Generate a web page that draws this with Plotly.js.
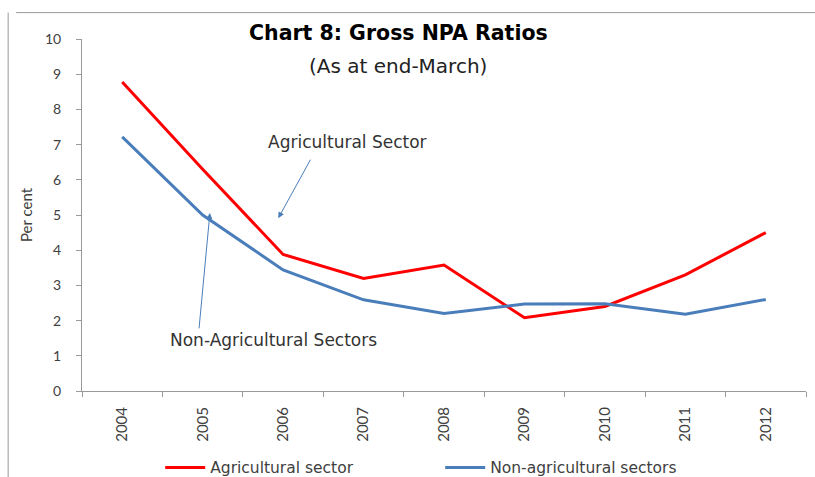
<!DOCTYPE html>
<html>
<head>
<meta charset="utf-8">
<script src="https://cdn.plot.ly/plotly-3.0.1.min.js"></script>
<style>html,body{margin:0;padding:0;background:#fff;}#chart{width:815px;height:477px;}</style>
</head>
<body>
<div id="chart"></div>
<script>
const years = ['2004','2005','2006','2007','2008','2009','2010','2011','2012'];
const agricultural = [8.78, 6.3, 3.88, 3.2, 3.58, 2.08, 2.4, 3.3, 4.5];
const nonAgricultural = [7.22, 5.0, 3.44, 2.59, 2.2, 2.47, 2.48, 2.18, 2.6];
const yTicks = [0,1,2,3,4,5,6,7,8,9,10];

const font = '"DejaVu Sans", "Open Sans", sans-serif';
const tickFont = 'Lato, "Open Sans", sans-serif';
const traces = [
  {x: years, y: agricultural, type: 'scatter', mode: 'lines', name: 'Agricultural sector',
   line: {color: '#ff0000', width: 3}},
  {x: years, y: nonAgricultural, type: 'scatter', mode: 'lines', name: 'Non-agricultural sectors',
   line: {color: '#4a7ebb', width: 3}}
];
const layout = {
  width: 815, height: 477,
  margin: {l: 82, r: 9, t: 39, b: 86, autoexpand: false},
  paper_bgcolor: '#fff', plot_bgcolor: '#fff',
  font: {family: font, color: '#404040', size: 14},
  showlegend: true,
  legend: {orientation: 'h', x: 0.108, y: -0.17, xanchor: 'left', yanchor: 'top',
           font: {family: font, size: 15.5, color: '#404040'}, itemwidth: 40, tracegroupgap: 0,
           entrywidth: 225, entrywidthmode: 'pixels'},
  xaxis: {type: 'category', range: [-0.5, 8.5], showline: true, linecolor: '#999', linewidth: 1,
          ticks: 'outside', tickson: 'boundaries', ticklen: 5, tickcolor: '#999',
          tickangle: -90, showgrid: false, zeroline: false, fixedrange: true, ticklabelstandoff: 9,
          tickfont: {family: tickFont, size: 15, color: '#404040'}},
  yaxis: {range: [0, 10], tickvals: yTicks, showline: true, linecolor: '#999', linewidth: 1,
          ticks: 'outside', ticklen: 5, tickcolor: '#999', showgrid: false, zeroline: false,
          ticklabelstandoff: 12,
          tickfont: {family: tickFont, size: 14, color: '#404040'},
          title: {text: 'Per cent', font: {family: tickFont, size: 15, color: '#404040'}, standoff: 8}},
  annotations: [
    {xref: 'paper', yref: 'paper', x: 0.437, y: 1.017, yanchor: 'middle', showarrow: false,
     text: '<b>Chart 8: Gross NPA Ratios</b>', font: {family: font, size: 20.5, color: '#000'}},
    {xref: 'paper', yref: 'paper', x: 0.437, y: 0.923, yanchor: 'middle', showarrow: false,
     text: '(As at end-March)', font: {family: font, size: 20, color: '#222'}},
    {xref: 'x', yref: 'y', x: 2.8, y: 7.07, showarrow: false,
     text: 'Agricultural Sector', font: {family: font, size: 17, color: '#333'}},
    {xref: 'x', yref: 'y', x: 1.88, y: 1.45, showarrow: false,
     text: 'Non-Agricultural Sectors', font: {family: font, size: 17, color: '#333'}},
    {xref: 'x', yref: 'y', x: 1.94, y: 4.91, ax: 33, ay: -60, showarrow: true, text: '',
     arrowhead: 2, arrowsize: 1.2, arrowwidth: 1, arrowcolor: '#4a7ebb'},
    {xref: 'x', yref: 'y', x: 1.09, y: 5.06, ax: -11, ay: 117, showarrow: true, text: '',
     arrowhead: 2, arrowsize: 1.2, arrowwidth: 1, arrowcolor: '#4a7ebb'}
  ],
  shapes: [
    {type: 'line', xref: 'paper', yref: 'paper', x0: -0.091, x1: 1.02, y0: 1.075, y1: 1.075,
     line: {color: '#999', width: 1}},
    {type: 'line', xref: 'paper', yref: 'paper', x0: -0.102, x1: -0.102, y0: 1.075, y1: -0.3,
     line: {color: '#999', width: 1}}
  ]
};
Plotly.newPlot('chart', traces, layout, {displayModeBar: false, staticPlot: true});
</script>
</body>
</html>
